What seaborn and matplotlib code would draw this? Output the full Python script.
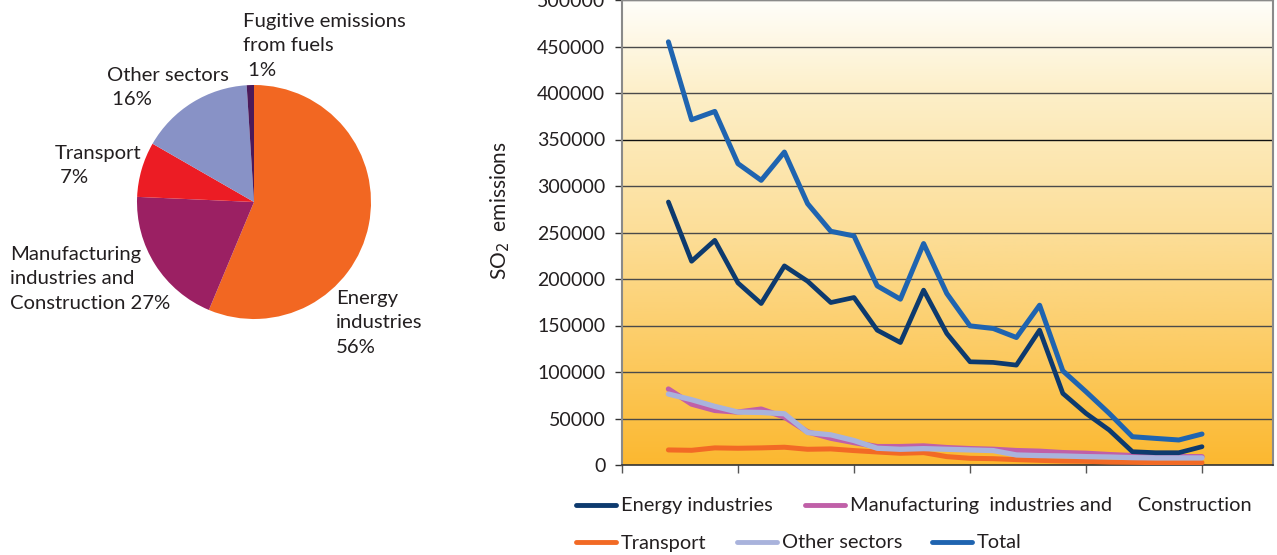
import numpy as np
import pandas as pd
import matplotlib
matplotlib.use("Agg")
import matplotlib.pyplot as plt
from matplotlib.colors import LinearSegmentedColormap
from matplotlib.lines import Line2D
import seaborn as sns

# ---------------- data ----------------
pie_sectors = ["Energy industries", "Manufacturing industries and Construction",
               "Transport", "Other sectors", "Fugitive emissions from fuels"]
pie_sizes = [56.3, 19.4, 7.6, 15.7, 1.0]
pie_labels = ["Energy\nindustries\n56%",
              "Manufacturing\nindustries and\nConstruction 27%",
              "Transport\n 7%",
              "Other sectors\n 16%",
              "Fugitive emissions\nfrom fuels\n 1%"]

years = list(range(24))
energy = [282800, 219100, 241600, 195800, 173600, 214100, 197600, 174700, 180100, 145000,
          131700, 188000, 141400, 111000, 110300, 107400, 145000, 77000, 55500, 37600,
          14300, 13200, 13200, 19700]
manufacturing = [81700, 65500, 58700, 56900, 60100, 51500, 35600, 28800, 24100, 19800,
                 19800, 20500, 18700, 17600, 16900, 15500, 14800, 13300, 12600, 11200,
                 10100, 9400, 9000, 9000]
transport = [16200, 15800, 18400, 18000, 18400, 19100, 16900, 17300, 15500, 14000,
             12600, 13300, 9000, 7200, 6800, 5800, 5000, 4300, 4000, 3200,
             2900, 2500, 2500, 2500]
other = [76300, 70200, 63000, 56900, 56500, 55100, 34900, 32400, 26300, 18000,
         16900, 17600, 16900, 16200, 15500, 10800, 10100, 9700, 9000, 8600,
         7900, 7600, 7600, 7600]
total = [455000, 371200, 380200, 324000, 306100, 336500, 281000, 251300, 246300, 192600,
         178300, 238100, 184400, 149600, 146800, 137100, 171800, 101300, 78800, 55500,
         30400, 28600, 26900, 33300]

yticks = list(range(0, 500001, 50000))

# ---------------- style ----------------
sns.set_theme(style="white")
plt.rcParams["font.family"] = ["Lato", "DejaVu Sans"]
TEXT = "#231f20"

W, H = 1277, 555
fig = plt.figure(figsize=(W / 100, H / 100), dpi=100)

# ---------------- pie ----------------
cx, cy, r = 254, 202, 117
axp = fig.add_axes([(cx - r) / W, (H - cy - r) / H, 2 * r / W, 2 * r / H])
pie_colors = ["#f26722", "#9b2063", "#ec1c24", "#8892c6", "#4b1a5a"]
axp.pie(pie_sizes, colors=pie_colors, startangle=90, counterclock=False,
        wedgeprops=dict(linewidth=0))
axp.set_xlim(-1, 1)
axp.set_ylim(-1, 1)
axp.set_aspect("equal")
axp.axis("off")

label_pos = [(336, 290), (10, 246), (55, 145), (107, 67), (243, 13)]
for txt, (lx, ly) in zip(pie_labels, label_pos):
    fig.text(lx / W, 1 - ly / H, txt, ha="left", va="top", fontsize=14.6,
             color=TEXT, linespacing=1.52)

# ---------------- line chart ----------------
left, right, top, bottom = 622, 1273, 0, 465
ax = fig.add_axes([left / W, (H - bottom) / H, (right - left) / W, (bottom - top) / H])
xmin, xmax = -2, 26.06
ax.set_xlim(xmin, xmax)
ax.set_ylim(0, 500000)

cmap = LinearSegmentedColormap.from_list(
    "bg", [(0, "#fbb830"), (0.2, "#fcc85a"), (0.5, "#fcde98"), (0.8, "#fdefc8"),
           (1.0, "#fffefa")])
grad = np.linspace(0, 1, 256).reshape(-1, 1)
ax.imshow(grad, extent=[xmin, xmax, 0, 500000], aspect="auto", cmap=cmap,
          origin="lower", zorder=0)

for yv in yticks[1:]:
    ax.axhline(yv, color="#111111" if yv == 350000 else "#4a4a4a", lw=1.0, zorder=1)

df = pd.DataFrame({"year": years, "Energy industries": energy,
                   "Manufacturing": manufacturing, "Transport": transport,
                   "Other sectors": other, "Total": total})

series = [("Transport", "#f26a25", 3.6),
          ("Manufacturing", "#c060a8", 3.8),
          ("Other sectors", "#a9b3dc", 3.8),
          ("Energy industries", "#0d3a6e", 3.4),
          ("Total", "#1f64b0", 3.6)]
for i, (col, c, lw) in enumerate(series):
    sns.lineplot(data=df, x="year", y=col, ax=ax, color=c, lw=lw, zorder=3 + i,
                 sort=False, legend=False)

ax.set_xlabel("")
ax.set_ylabel("SO$_2$  emissions", fontsize=15, color=TEXT)
ax.yaxis.set_label_coords(-0.169, 0.548)
ax.set_yticks(yticks)
ax.set_yticklabels([str(v) for v in yticks], fontsize=14, color=TEXT)
ax.set_xticks([-2, 3, 8, 13, 18, 23])
ax.set_xticklabels([])
ax.tick_params(axis="y", direction="out", length=5, width=1, color="#333333", pad=7, left=True)
ax.tick_params(axis="x", direction="out", length=6, width=1, color="#555555", bottom=True)
for s in ["left", "right", "top", "bottom"]:
    ax.spines[s].set_color("#8a8a8a")
    ax.spines[s].set_linewidth(1.5)
ax.spines["bottom"].set_color("#333333")
ax.spines["bottom"].set_linewidth(1.2)

# ---------------- legend ----------------
row1 = [Line2D([], [], color="#0d3a6e", lw=3.5),
        Line2D([], [], color="#c060a8", lw=3.5)]
row2 = [Line2D([], [], color="#f26a25", lw=3.5),
        Line2D([], [], color="#a9b3dc", lw=3.5),
        Line2D([], [], color="#1f64b0", lw=3.5)]
lkw = dict(frameon=False, fontsize=14.4, handlelength=2.0, handletextpad=0.25,
           borderaxespad=0, borderpad=0, labelcolor=TEXT)
leg1 = fig.legend(row1, ["Energy industries", "Manufacturing  industries and     Construction"],
                  ncol=2, columnspacing=1.6, loc="center left",
                  bbox_to_anchor=(576 / W, 1 - 506 / H), **lkw)
leg2 = fig.legend(row2, ["Transport", "Other sectors", "Total"],
                  ncol=3, columnspacing=1.5, loc="center left",
                  bbox_to_anchor=(576 / W, 1 - 543 / H), **lkw)

fig.savefig("out.png", dpi=100)
